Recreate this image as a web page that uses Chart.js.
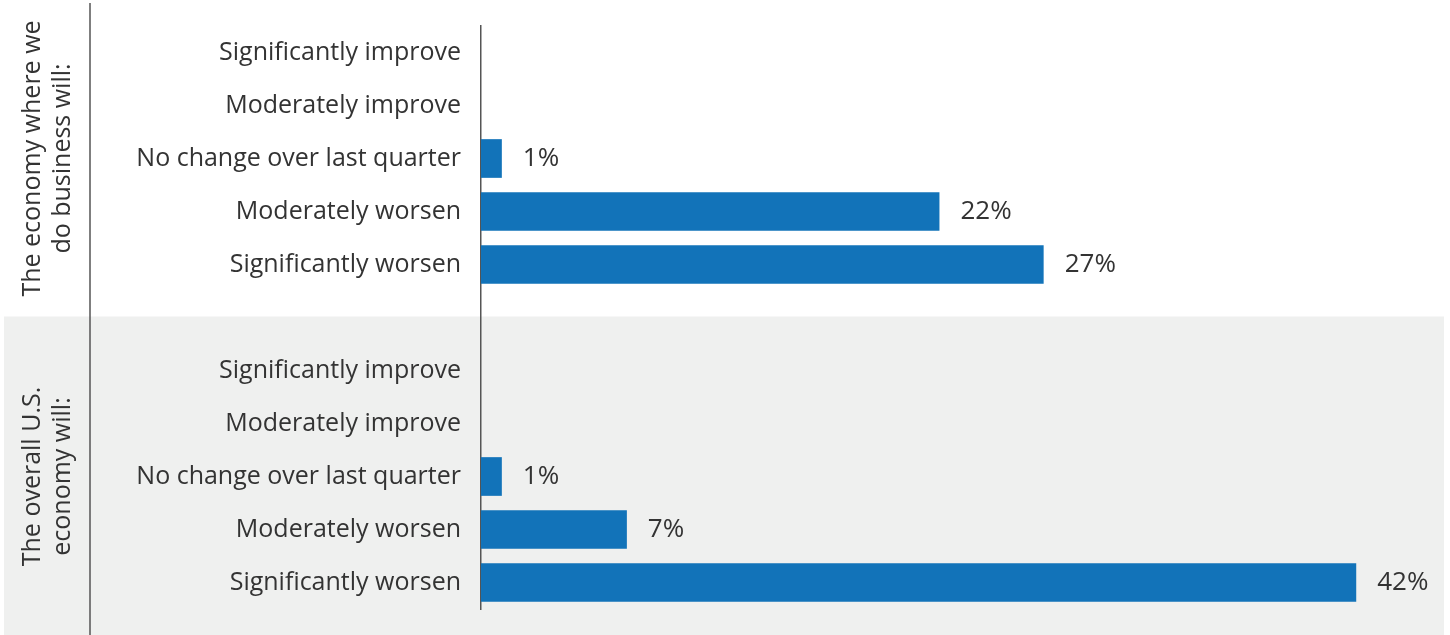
<!DOCTYPE html>
<html lang="en">
<head>
    <meta charset="UTF-8">
    <title>Economy outlook</title>
    <script src="https://cdn.jsdelivr.net/npm/chart.js"></script>
    <style>
        html, body { margin: 0; padding: 0; background: #fff; }
        #wrap { width: 1450px; height: 635px; }
    </style>
</head>
<body>
    <div id="wrap"><canvas id="outlookChart"></canvas></div>

    <script>
        const answers = ['Significantly improve', 'Moderately improve', 'No change over last quarter', 'Moderately worsen', 'Significantly worsen'];
        const groupTitles = [['The economy where we', 'do business will:'], ['The overall U.S.', 'economy will:']];
        const localValues = [0, 0, 1, 22, 27];
        const usValues = [0, 0, 1, 7, 42];

        // one empty row separates the two groups
        const labels = answers.concat([''], answers);
        const values = localValues.concat([null], usValues);

        const textColor = '#333333';
        const fontFamily = '"Open Sans", Lato, sans-serif';

        const decorPlugin = {
            id: 'decor',
            beforeDraw(chart) {
                const ctx = chart.ctx;
                const y = chart.scales.y;
                const split = y.getPixelForValue(answers.length) - 1;
                ctx.save();
                ctx.fillStyle = '#eff0ef';
                ctx.fillRect(4, split, 1440, chart.height - split);
                ctx.strokeStyle = '#555';
                ctx.lineWidth = 1.5;
                ctx.beginPath();
                ctx.moveTo(90, 3);
                ctx.lineTo(90, chart.height);
                ctx.stroke();
                ctx.restore();
            },
            afterDatasetsDraw(chart) {
                const ctx = chart.ctx;
                const meta = chart.getDatasetMeta(0);
                const y = chart.scales.y;
                ctx.save();
                ctx.fillStyle = textColor;
                ctx.font = '26px ' + fontFamily;
                ctx.textBaseline = 'middle';
                ctx.textAlign = 'left';
                meta.data.forEach((bar, i) => {
                    const v = values[i];
                    if (v === null || v === 0) return;
                    ctx.fillText(v + '%', bar.x + 21, bar.y);
                });

                // rotated group titles
                ctx.font = '25px ' + fontFamily;
                ctx.textAlign = 'center';
                groupTitles.forEach((lines, g) => {
                    const first = g * (answers.length + 1);
                    const cy = (y.getPixelForValue(first) + y.getPixelForValue(first + answers.length - 1)) / 2;
                    ctx.save();
                    ctx.translate(48, cy);
                    ctx.rotate(-Math.PI / 2);
                    ctx.fillText(lines[0], 0, -15);
                    ctx.fillText(lines[1], 0, 15);
                    ctx.restore();
                });
                ctx.restore();
            }
        };

        new Chart(document.getElementById('outlookChart'), {
            type: 'bar',
            data: {
                labels: labels,
                datasets: [{
                    data: values,
                    backgroundColor: '#1273b9',
                    barPercentage: 0.73,
                    categoryPercentage: 1.0
                }]
            },
            options: {
                indexAxis: 'y',
                responsive: true,
                maintainAspectRatio: false,
                animation: false,
                layout: { padding: { top: 26, bottom: 26, left: 0, right: 0 } },
                plugins: {
                    legend: { display: false },
                    tooltip: { enabled: false }
                },
                scales: {
                    x: {
                        display: false,
                        min: 0,
                        max: 46.5
                    },
                    y: {
                        afterFit(scale) {
                            scale.width = 481;
                            scale.paddingTop = 0;
                            scale.paddingBottom = 0;
                        },
                        grid: { display: false, drawTicks: false },
                        border: { display: true, color: '#555', width: 1.5 },
                        ticks: {
                            padding: 20,
                            color: textColor,
                            font: { size: 25, family: fontFamily }
                        }
                    }
                }
            },
            plugins: [decorPlugin]
        });
    </script>
</body>
</html>
